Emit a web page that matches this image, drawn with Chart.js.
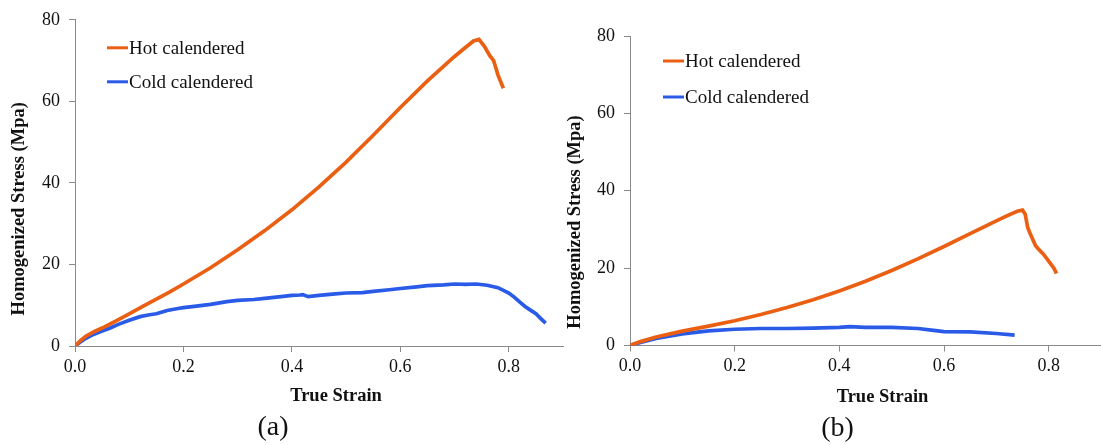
<!DOCTYPE html>
<html>
<head>
<meta charset="utf-8">
<script src="https://cdn.jsdelivr.net/npm/chart.js@4/dist/chart.umd.min.js"></script>
<style>
  html, body { margin: 0; padding: 0; background: #fff; }
  body { width: 1101px; height: 445px; position: relative; overflow: hidden; }
  .panel { position: absolute; top: 0; height: 445px; }
  #wrapA { left: 0; width: 575px; }
  #wrapB { left: 555px; width: 546px; }
</style>
</head>
<body>
<div class="panel" id="wrapA"><canvas id="chartA" width="575" height="445"></canvas></div>
<div class="panel" id="wrapB"><canvas id="chartB" width="546" height="445"></canvas></div>
<script>
// Axis ticks and labels
const strainTicks = [0, 0.2, 0.4, 0.6, 0.8];
const stressTicks = [0, 20, 40, 60, 80];
const seriesNames = ['Hot calendered', 'Cold calendered'];
const panelTags = ['(a)', '(b)'];
const xTitle = 'True Strain';
const yTitle = 'Homogenized Stress (Mpa)';

// Panel (a): hot calendered
const hotStrainA = [0, 0.01, 0.02, 0.035, 0.05, 0.075, 0.1, 0.125, 0.15, 0.175, 0.2, 0.25, 0.3, 0.35, 0.4, 0.45, 0.5, 0.55, 0.6, 0.65, 0.7, 0.72, 0.735, 0.745, 0.755, 0.765, 0.772, 0.78, 0.79];
const hotStressA = [0, 1.3, 2.4, 3.5, 4.4, 6.1, 7.9, 9.7, 11.5, 13.3, 15.2, 19.2, 23.6, 28.3, 33.4, 39.0, 45.1, 51.7, 58.5, 65.0, 71.0, 73.2, 74.8, 75.2, 73.5, 71.2, 70.0, 66.5, 63.2];

// Panel (a): cold calendered
const coldStrainA = [0, 0.01, 0.02, 0.035, 0.05, 0.065, 0.08, 0.1, 0.12, 0.135, 0.15, 0.17, 0.19, 0.2, 0.22, 0.25, 0.28, 0.3, 0.33, 0.35, 0.38, 0.4, 0.415, 0.42, 0.43, 0.45, 0.48, 0.5, 0.53, 0.55, 0.58, 0.6, 0.63, 0.65, 0.68, 0.7, 0.72, 0.74, 0.76, 0.78, 0.8, 0.81, 0.82, 0.83, 0.84, 0.85, 0.86, 0.868];
const coldStressA = [0, 1.0, 1.9, 2.9, 3.7, 4.4, 5.3, 6.3, 7.2, 7.6, 7.9, 8.7, 9.2, 9.4, 9.7, 10.2, 10.9, 11.2, 11.4, 11.7, 12.1, 12.4, 12.5, 12.6, 12.1, 12.4, 12.8, 13.0, 13.1, 13.4, 13.8, 14.1, 14.5, 14.8, 15.0, 15.2, 15.1, 15.2, 14.9, 14.3, 13.0, 12.0, 10.8, 9.7, 8.8, 7.9, 6.6, 5.6];

// Panel (b): hot calendered
const hotStrainB = [0, 0.02, 0.05, 0.1, 0.15, 0.2, 0.25, 0.3, 0.35, 0.4, 0.45, 0.5, 0.55, 0.6, 0.65, 0.7, 0.72, 0.74, 0.75, 0.755, 0.76, 0.765, 0.775, 0.78, 0.79, 0.8, 0.81, 0.815];
const hotStressB = [0, 1.0, 2.2, 3.7, 5.0, 6.4, 8.0, 9.8, 11.8, 14.1, 16.6, 19.4, 22.4, 25.6, 28.9, 32.2, 33.5, 34.7, 35.0, 34.0, 30.5, 28.8, 25.8, 25.0, 23.6, 21.8, 20.0, 18.6];

// Panel (b): cold calendered
const coldStrainB = [0, 0.02, 0.05, 0.1, 0.15, 0.2, 0.25, 0.3, 0.35, 0.4, 0.42, 0.45, 0.5, 0.55, 0.58, 0.6, 0.65, 0.7, 0.735];
const coldStressB = [0, 0.8, 1.8, 3.0, 3.8, 4.2, 4.4, 4.4, 4.5, 4.7, 4.9, 4.7, 4.7, 4.4, 3.9, 3.6, 3.5, 3.1, 2.7];

const HOT_COLOR = '#EA5F12';
const COLD_COLOR = '#2A5BE8';
const AXIS_COLOR = '#8a8a8a';
const SERIF = '"Liberation Serif", "Times New Roman", serif';

const toPoints = (xs, ys) => xs.map((x, i) => ({ x, y: ys[i] }));

// Draws axis titles, the in-plot legend and the panel tag
const panelDecor = {
  id: 'panelDecor',
  afterDraw(chart, args, o) {
    const { ctx, chartArea: a } = chart;
    ctx.save();
    ctx.fillStyle = '#111';
    ctx.textAlign = 'center';
    ctx.textBaseline = 'middle';
    ctx.font = 'bold 18.5px ' + SERIF;
    ctx.fillText(o.xTitle, (a.left + a.right) / 2 + o.xTitleShift, a.bottom + o.xTitleDrop);
    ctx.save();
    ctx.translate(a.left - o.yTitleGap, a.top + o.yTitleDown);
    ctx.rotate(-Math.PI / 2);
    ctx.fillText(o.yTitle, 0, 0);
    ctx.restore();
    ctx.font = '28px ' + SERIF;
    ctx.fillText(o.tag, (a.left + a.right) / 2 + o.tagShift, a.bottom + o.tagDrop);

    ctx.font = '19px ' + SERIF;
    ctx.textAlign = 'left';
    chart.data.datasets.forEach((ds, i) => {
      const y = a.top + o.legendTop + i * o.legendGap;
      const x0 = a.left + o.legendLeft;
      ctx.strokeStyle = ds.borderColor;
      ctx.lineWidth = 3;
      ctx.beginPath();
      ctx.moveTo(x0, y);
      ctx.lineTo(x0 + 21, y);
      ctx.stroke();
      ctx.fillText(ds.label, x0 + 22, y + 1);
    });
    ctx.restore();
  }
};

function makePanel(canvasId, hotX, hotY, coldX, coldY, decor, pad) {
  return new Chart(document.getElementById(canvasId), {
    type: 'scatter',
    data: {
      datasets: [
        { label: seriesNames[0], data: toPoints(hotX, hotY), showLine: true, borderColor: HOT_COLOR, backgroundColor: HOT_COLOR, borderWidth: 3.7, pointRadius: 0, tension: 0 },
        { label: seriesNames[1], data: toPoints(coldX, coldY), showLine: true, borderColor: COLD_COLOR, backgroundColor: COLD_COLOR, borderWidth: 3.7, pointRadius: 0, tension: 0 }
      ]
    },
    options: {
      responsive: false,
      animation: false,
      layout: { padding: pad },
      plugins: {
        legend: { display: false },
        tooltip: { enabled: false },
        panelDecor: decor
      },
      scales: {
        x: {
          type: 'linear',
          min: 0,
          max: 0.9,
          afterBuildTicks: (s) => { s.ticks = strainTicks.map(v => ({ value: v })); },
          afterFit: (s) => { s.height = 40; },
          grid: { drawOnChartArea: false, drawTicks: true, tickLength: 6, color: AXIS_COLOR },
          border: { display: true, color: AXIS_COLOR, width: 1 },
          ticks: { color: '#111', font: { family: SERIF, size: 18 }, padding: 4, maxRotation: 0, callback: (v) => Number(v).toFixed(1) }
        },
        y: {
          min: 0,
          max: 80,
          afterBuildTicks: (s) => { s.ticks = stressTicks.map(v => ({ value: v })); },
          afterFit: (s) => { s.width = 75; },
          grid: { drawOnChartArea: false, drawTicks: true, tickLength: 6, color: AXIS_COLOR },
          border: { display: true, color: AXIS_COLOR, width: 1 },
          ticks: { color: '#111', font: { family: SERIF, size: 18 }, padding: 9, callback: (v) => String(v) }
        }
      }
    },
    plugins: [panelDecor]
  });
}

makePanel('chartA', hotStrainA, hotStressA, coldStrainA, coldStressA,
  { xTitle, yTitle, tag: panelTags[0], xTitleShift: 17, xTitleDrop: 50, yTitleGap: 56, yTitleDown: 189,
    tagShift: -46, tagDrop: 82, legendLeft: 32, legendTop: 28, legendGap: 34 },
  { left: 0, top: 17, right: 12, bottom: 59 });

makePanel('chartB', hotStrainB, hotStressB, coldStrainB, coldStressB,
  { xTitle, yTitle, tag: panelTags[1], xTitleShift: 17, xTitleDrop: 52, yTitleGap: 55, yTitleDown: 186,
    tagShift: -28, tagDrop: 83, legendLeft: 33, legendTop: 25, legendGap: 36 },
  { left: 0, top: 36, right: 0, bottom: 59.5 });
</script>
</body>
</html>
